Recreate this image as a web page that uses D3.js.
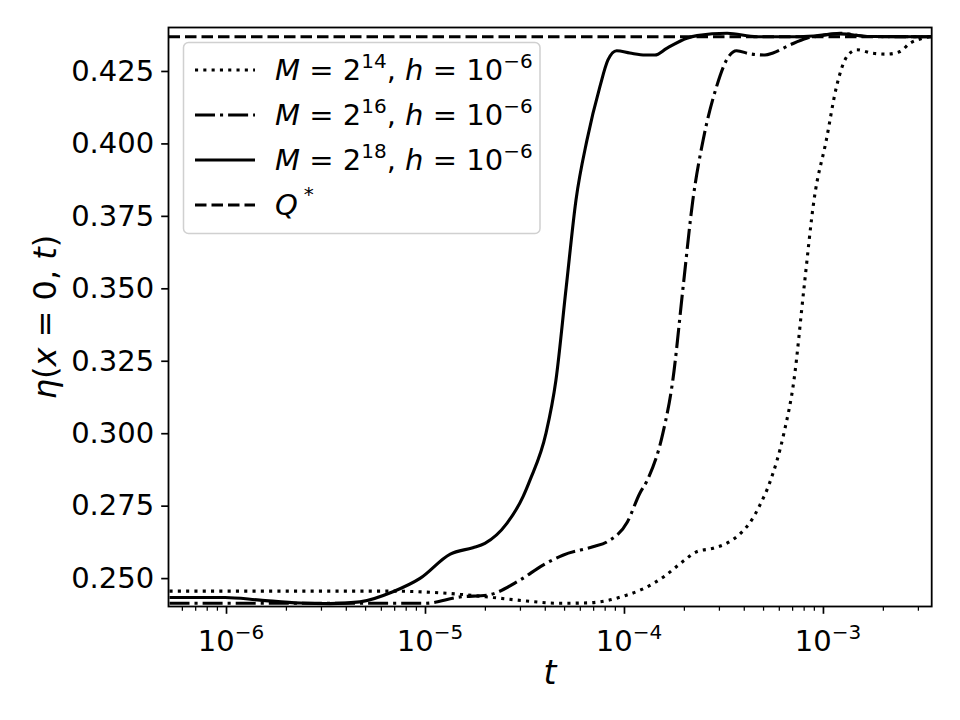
<!DOCTYPE html>
<html>
<head>
<meta charset="utf-8">
<script src="https://cdn.jsdelivr.net/npm/d3@7"></script>
<style>
  body { margin: 0; background: #fff; }
  svg { display: block; }
  text { font-family: "DejaVu Sans", sans-serif; fill: #000; }
</style>
</head>
<body>
<svg id="chart" width="960" height="720"></svg>
<script>
// ---- data ----
const t18 = [5.2e-7, 9.9e-7, 1.48e-6, 2.36e-6, 3.33e-6, 4.71e-6, 6.90e-6, 9.44e-6, 1.34e-5, 1.74e-5, 2.00e-5, 2.58e-5, 3.11e-5, 3.37e-5, 4.06e-5, 4.55e-5, 5.12e-5, 5.74e-5, 6.52e-5, 7.57e-5, 8.31e-5, 9.19e-5, 1.07e-4, 1.28e-4, 1.43e-4, 1.64e-4, 2.07e-4, 2.33e-4, 3.30e-4, 4.66e-4, 7.66e-4, 1.22e-3, 1.72e-3, 3.53e-3];
const eta18 = [0.2433, 0.2433, 0.2424, 0.2414, 0.2412, 0.2418, 0.2453, 0.2499, 0.2583, 0.2605, 0.2620, 0.2689, 0.2781, 0.2838, 0.3001, 0.3183, 0.3501, 0.3805, 0.4012, 0.4196, 0.4288, 0.4320, 0.4312, 0.4305, 0.4305, 0.4328, 0.4363, 0.4372, 0.4380, 0.4368, 0.4368, 0.4378, 0.4369, 0.4368];

const t16 = [5.2e-7, 2.36e-6, 1.0e-5, 1.50e-5, 2.05e-5, 3.00e-5, 3.92e-5, 4.93e-5, 6.98e-5, 8.22e-5, 1.04e-4, 1.20e-4, 1.31e-4, 1.57e-4, 1.76e-4, 1.98e-4, 2.22e-4, 2.50e-4, 2.92e-4, 3.28e-4, 3.68e-4, 4.30e-4, 5.11e-4, 5.61e-4, 6.83e-4, 8.28e-4, 9.66e-4, 1.22e-3, 1.72e-3, 3.53e-3];
const eta16 = [0.2413, 0.2413, 0.2413, 0.2435, 0.2441, 0.2493, 0.2545, 0.2579, 0.2608, 0.2625, 0.2694, 0.2792, 0.2838, 0.3001, 0.3183, 0.3501, 0.3805, 0.4012, 0.4196, 0.4288, 0.4320, 0.4309, 0.4305, 0.4312, 0.4340, 0.4363, 0.4371, 0.4380, 0.4369, 0.4368];

const t14 = [5.2e-7, 2.36e-6, 6.90e-6, 1.0e-5, 1.50e-5, 2.20e-5, 3.24e-5, 4.76e-5, 6.74e-5, 1.03e-4, 1.23e-4, 1.58e-4, 1.99e-4, 2.32e-4, 2.81e-4, 3.34e-4, 3.90e-4, 4.38e-4, 4.82e-4, 5.42e-4, 6.37e-4, 7.15e-4, 8.03e-4, 9.02e-4, 1.04e-3, 1.17e-3, 1.32e-3, 1.48e-3, 1.78e-3, 2.09e-3, 2.44e-3, 2.74e-3, 3.18e-3, 3.53e-3];
const eta14 = [0.2455, 0.2455, 0.2455, 0.2452, 0.2444, 0.2433, 0.2421, 0.2413, 0.2415, 0.2441, 0.2461, 0.2504, 0.2559, 0.2591, 0.2603, 0.2623, 0.2658, 0.2700, 0.2752, 0.2832, 0.3001, 0.3183, 0.3501, 0.3805, 0.4012, 0.4196, 0.4300, 0.4323, 0.4311, 0.4308, 0.4317, 0.4346, 0.4363, 0.4371];

const qStar = 0.4368;

const yTicks = [0.250, 0.275, 0.300, 0.325, 0.350, 0.375, 0.400, 0.425];
const xTickExps = [-6, -5, -4, -3];
const xDomain = [5.14e-7, 3.52e-3];
const yDomain = [0.2402, 0.4400];

const series = [
  { name: "14", t: t14, eta: eta14, dash: "3.1,5.2" },
  { name: "16", t: t16, eta: eta16, dash: "20,5,3.1,5" },
  { name: "18", t: t18, eta: eta18, dash: null }
];

// ---- layout ----
const L = 168.5, R = 931.7, T = 27.5, B = 606.5;
const svg = d3.select("#chart");
const x = d3.scaleLog().domain(xDomain).range([L, R]);
const y = d3.scaleLinear().domain(yDomain).range([B, T]);
const LW = 3.1;

svg.append("defs").append("clipPath").attr("id", "clip")
  .append("rect").attr("x", L).attr("y", T).attr("width", R - L).attr("height", B - T);

const plot = svg.append("g").attr("clip-path", "url(#clip)");

// Q* line
plot.append("line")
  .attr("x1", L).attr("x2", R)
  .attr("y1", y(qStar)).attr("y2", y(qStar))
  .attr("stroke", "#000").attr("stroke-width", LW)
  .attr("stroke-dasharray", "11.5,5");

const line = d3.line().x(d => x(d[0])).y(d => y(d[1])).curve(d3.curveMonotoneX);
series.forEach(s => {
  const pts = s.t.map((tv, i) => [tv, s.eta[i]]);
  plot.append("path").datum(pts)
    .attr("d", line)
    .attr("fill", "none").attr("stroke", "#000")
    .attr("stroke-width", LW)
    .attr("stroke-linejoin", "round")
    .attr("stroke-dasharray", s.dash);
});

// ---- axes ----
const fs = 29;
// y axis
const yAxis = d3.axisLeft(y).tickValues(yTicks).tickFormat(d3.format(".3f")).tickSize(7.3).tickPadding(7);
const gy = svg.append("g").attr("transform", `translate(${L},0)`).call(yAxis);
gy.select(".domain").remove();
gy.selectAll(".tick line").attr("stroke-width", 1.7);
gy.selectAll(".tick text").attr("font-size", fs).style("font-family", "DejaVu Sans");

// x axis: major ticks
const majors = xTickExps.map(e => Math.pow(10, e));
const minors = [];
for (let e = -7; e <= -3; e++) for (let k = 2; k <= 9; k++) {
  const v = k * Math.pow(10, e);
  if (v >= xDomain[0] && v <= xDomain[1]) minors.push(v);
}
const gxMinor = svg.append("g").attr("transform", `translate(0,${B})`)
  .call(d3.axisBottom(x).tickValues(minors).tickSize(4.2).tickFormat(""));
gxMinor.select(".domain").remove();
gxMinor.selectAll(".tick line").attr("stroke-width", 1.25);

const gx = svg.append("g").attr("transform", `translate(0,${B})`)
  .call(d3.axisBottom(x).tickValues(majors).tickSize(7.3).tickFormat(""));
gx.select(".domain").remove();
gx.selectAll(".tick line").attr("stroke-width", 1.7);

xTickExps.forEach(e => {
  const tx = svg.append("text")
    .attr("x", x(Math.pow(10, e)) + 5)
    .attr("y", B + 44)
    .attr("text-anchor", "middle")
    .attr("font-size", fs);
  tx.append("tspan").text("10");
  tx.append("tspan").attr("font-size", 20).attr("dy", -12).text("\u2212" + Math.abs(e));
});

// frame
svg.append("rect").attr("x", L).attr("y", T).attr("width", R - L).attr("height", B - T)
  .attr("fill", "none").attr("stroke", "#000").attr("stroke-width", 1.8);

// axis labels
svg.append("text").attr("x", 550).attr("y", 684).attr("text-anchor", "middle")
  .attr("font-size", 33).attr("font-style", "italic").text("t");

const yl = svg.append("text")
  .attr("transform", `translate(56,${(T + B) / 2}) rotate(-90)`)
  .attr("text-anchor", "middle").attr("font-size", 32);
yl.append("tspan").attr("font-style", "italic").text("η");
yl.append("tspan").text("(");
yl.append("tspan").attr("font-style", "italic").text("x");
yl.append("tspan").text(" = 0, ");
yl.append("tspan").attr("font-style", "italic").text("t");
yl.append("tspan").text(")");

// ---- legend ----
const lg = svg.append("g");
lg.append("rect").attr("x", 183.5).attr("y", 42.5).attr("width", 356.5).attr("height", 191)
  .attr("rx", 5).attr("fill", "#fff").attr("fill-opacity", 0.8)
  .attr("stroke", "#d0d0d0").attr("stroke-width", 1.5);

const legendItems = [
  { dash: "3.1,5.2", exp: "14" },
  { dash: "20,5,3.1,5", exp: "16" },
  { dash: null, exp: "18" },
  { dash: "11.5,5", exp: null }
];
legendItems.forEach((it, i) => {
  const cy = 70 + i * 45;
  lg.append("line").attr("x1", 195).attr("x2", 255).attr("y1", cy).attr("y2", cy)
    .attr("stroke", "#000").attr("stroke-width", LW).attr("stroke-dasharray", it.dash);
  const tx = lg.append("text").attr("x", 275).attr("y", cy + 10).attr("font-size", fs);
  if (it.exp) {
    tx.append("tspan").attr("font-style", "italic").text("M");
    tx.append("tspan").text(" = 2");
    tx.append("tspan").attr("font-size", 20).attr("dy", -12).text(it.exp);
    tx.append("tspan").attr("dy", 12).text(",  ");
    tx.append("tspan").attr("font-style", "italic").text("h");
    tx.append("tspan").text(" = 10");
    tx.append("tspan").attr("font-size", 20).attr("dy", -12).text("\u22126");
  } else {
    tx.append("tspan").attr("font-style", "italic").text("Q");
    tx.append("tspan").attr("font-size", 20).attr("dx", 6).attr("dy", -14).text("*");
  }
});
</script>
</body>
</html>
